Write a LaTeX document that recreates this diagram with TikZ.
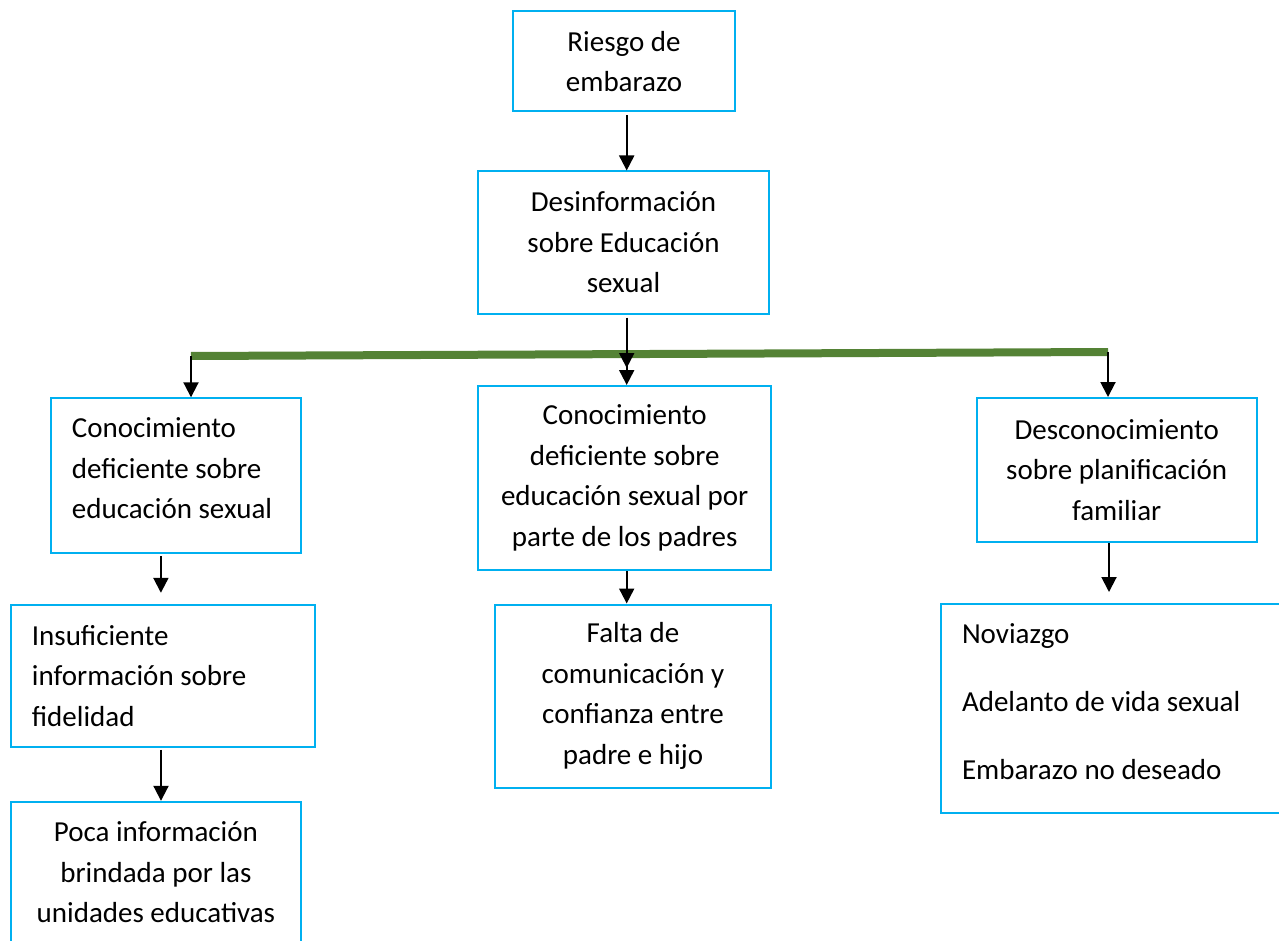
\documentclass[tikz,border=0pt]{standalone}
\usepackage{fontspec}
\setmainfont{Carlito}
\usepackage{tikz}
\usetikzlibrary{arrows.meta}

\definecolor{cajaazul}{RGB}{0,176,240}
\definecolor{barraverde}{RGB}{84,130,53}

\begin{document}
\begin{tikzpicture}[x=1pt,y=-1pt,
    caja/.style={draw=cajaazul,line width=2pt,rectangle,inner sep=0pt,align=center,
        font=\fontsize{29}{40.5}\selectfont},
    cajaizq/.style={caja,align=flush left,inner xsep=21pt},
    subir/.style={execute at end node={\endgraf\vspace{#1}}},
    flecha/.style={-{Triangle[width=15pt,length=15pt]},line width=2pt}]
    \useasboundingbox (0,0) rectangle (1279,941);
    % nivel superior
    \node[caja,minimum width=222pt,minimum height=100pt] (riesgo) at (624,61.5) {Riesgo de\\embarazo};
    \node[caja,minimum width=291pt,minimum height=142pt] (desinf) at (623.5,242.5) {Desinformación\\sobre Educación\\sexual};
    % barra verde
    \coordinate (barraI) at (191,356);
    \coordinate (barraM) at (626.7,354);
    \coordinate (barraD) at (1108,352);
    \coordinate (caida) at (626.7,368);
    \draw[barraverde,line width=8pt] (barraI) -- (barraD);
    % causas
    \node[cajaizq,subir=15pt,text width=208pt,minimum height=155pt] (conoc) at (175.9,475.8) {Conocimiento\\deficiente sobre\\educación sexual};
    \node[caja,minimum width=293pt,minimum height=184pt] (padres) at (624.7,478) {Conocimiento\\deficiente sobre\\educación sexual por\\parte de los padres};
    \node[caja,minimum width=280pt,minimum height=144pt] (descon) at (1116.7,470) {Desconocimiento\\sobre planificación\\familiar};
    \node[cajaizq,text width=262pt,minimum height=142pt] (insuf) at (162.9,675.8) {Insuficiente\\información sobre\\fidelidad};
    \node[caja,minimum width=276pt,minimum height=183pt] (falta) at (633,696) {Falta de\\comunicación y\\confianza entre\\padre e hijo};
    \node[cajaizq,subir=13pt,text width=307pt,minimum height=209pt] (novio) at (1115.5,708.5) {Noviazgo\\[27.5pt]Adelanto de vida sexual\\[27.5pt]Embarazo no deseado};
    \node[caja,minimum width=290pt,minimum height=141pt] (poca) at (155.9,872.3) {Poca información\\brindada por las\\unidades educativas};
    % flechas
    \draw[flecha,shorten <=3pt] ([xshift=2.7pt]riesgo.south) -- ([xshift=2.7pt]riesgo.south |- desinf.north);
    \draw[flecha,shorten <=3pt] (desinf.south -| caida) -- (caida);
    \draw[flecha] (barraI) -- (barraI |- conoc.north);
    \draw[flecha] (barraM) -- (barraM |- padres.north);
    \draw[flecha] (barraD) -- (barraD |- descon.north);
    \draw[flecha,shorten <=2pt,shorten >=11pt] ([xshift=-15pt]conoc.south) -- ([xshift=-15pt]conoc.south |- insuf.north);
    \draw[flecha] (padres.south -| caida) -- (caida |- falta.north);
    \draw[flecha,shorten >=11pt] ([xshift=-7.7pt]descon.south) -- ([xshift=-7.7pt]descon.south |- novio.north);
    \draw[flecha,shorten <=2pt] ([xshift=-1.9pt]insuf.south) -- ([xshift=-1.9pt]insuf.south |- poca.north);
\end{tikzpicture}
\end{document}
